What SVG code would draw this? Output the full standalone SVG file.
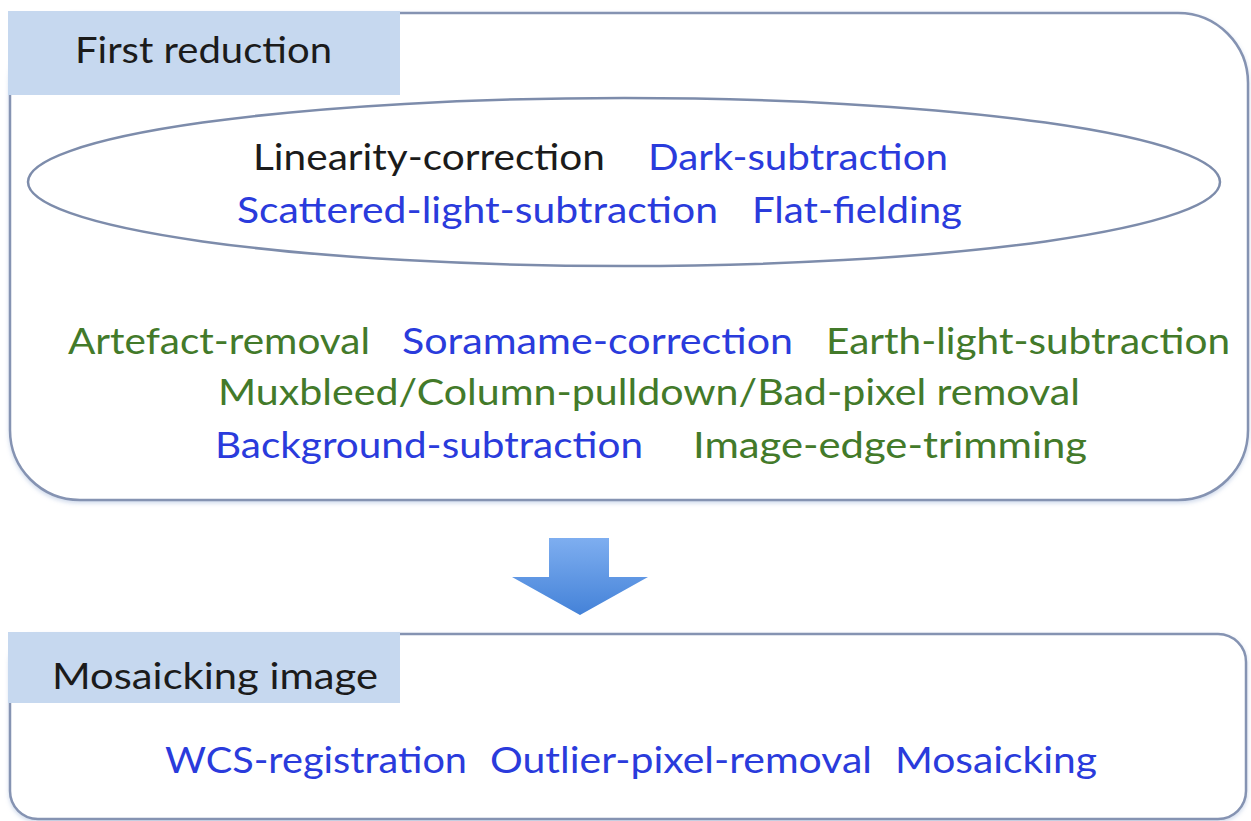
<svg xmlns="http://www.w3.org/2000/svg" width="1251" height="821" viewBox="0 0 1251 821">
<defs>
<linearGradient id="ag" x1="0" y1="0" x2="0" y2="1">
<stop offset="0" stop-color="#7eaef0"/>
<stop offset="1" stop-color="#4482d8"/>
</linearGradient>
<filter id="sh" x="-5%" y="-5%" width="110%" height="110%">
<feGaussianBlur in="SourceAlpha" stdDeviation="2"/>
<feOffset dx="0" dy="2" result="b"/>
<feFlood flood-color="#9fb4d8" flood-opacity="0.5"/>
<feComposite in2="b" operator="in"/>
<feMerge><feMergeNode/><feMergeNode in="SourceGraphic"/></feMerge>
</filter>
</defs>
<style>
.box{fill:#ffffff;stroke:#8593b2;stroke-width:2.5}
.hdr{fill:#c6d8ef}
.t{font-family:Lato,"Open Sans","Liberation Sans",sans-serif;font-size:37px}
.k{fill:#1b1b1b}
.b{fill:#2a3bdc}
.g{fill:#437a2a}
</style>
<rect width="1251" height="821" fill="#ffffff"/>
<g id="first-reduction">
<rect class="box" x="10" y="13" width="1238" height="487" rx="70" ry="70" filter="url(#sh)"/>
<rect class="hdr" x="8" y="11" width="392" height="84"/>
<text class="t k" x="75" y="63" textLength="257" lengthAdjust="spacingAndGlyphs">First reduction</text>
<ellipse cx="624" cy="182" rx="596" ry="84" fill="#ffffff" stroke="#7d8cab" stroke-width="2.5"/>
<text class="t k" x="253" y="170" textLength="352" lengthAdjust="spacingAndGlyphs">Linearity-correction</text>
<text class="t b" x="648" y="170" textLength="300" lengthAdjust="spacingAndGlyphs">Dark-subtraction</text>
<text class="t b" x="237" y="223" textLength="481" lengthAdjust="spacingAndGlyphs">Scattered-light-subtraction</text>
<text class="t b" x="752" y="223" textLength="210" lengthAdjust="spacingAndGlyphs">Flat-fielding</text>
<text class="t g" x="68" y="354" textLength="302" lengthAdjust="spacingAndGlyphs">Artefact-removal</text>
<text class="t b" x="402" y="354" textLength="391" lengthAdjust="spacingAndGlyphs">Soramame-correction</text>
<text class="t g" x="826" y="354" textLength="404" lengthAdjust="spacingAndGlyphs">Earth-light-subtraction</text>
<text class="t g" x="218" y="405" textLength="862" lengthAdjust="spacingAndGlyphs">Muxbleed/Column-pulldown/Bad-pixel removal</text>
<text class="t b" x="215" y="458" textLength="428" lengthAdjust="spacingAndGlyphs">Background-subtraction</text>
<text class="t g" x="693" y="458" textLength="394" lengthAdjust="spacingAndGlyphs">Image-edge-trimming</text>
</g>
<g id="connectors">
<path d="M549,538 H609 V577 H648 L580,615 L512,577 H549 Z" fill="url(#ag)"/>
</g>
<g id="mosaicking-image">
<rect class="box" x="10" y="634" width="1236" height="185" rx="28" ry="28" filter="url(#sh)"/>
<rect class="hdr" x="8" y="632" width="392" height="71"/>
<text class="t k" x="52" y="689" textLength="326" lengthAdjust="spacingAndGlyphs">Mosaicking image</text>
<text class="t b" x="165" y="773" textLength="302" lengthAdjust="spacingAndGlyphs">WCS-registration</text>
<text class="t b" x="490" y="773" textLength="382" lengthAdjust="spacingAndGlyphs">Outlier-pixel-removal</text>
<text class="t b" x="895" y="773" textLength="202" lengthAdjust="spacingAndGlyphs">Mosaicking</text>
</g>
</svg>
